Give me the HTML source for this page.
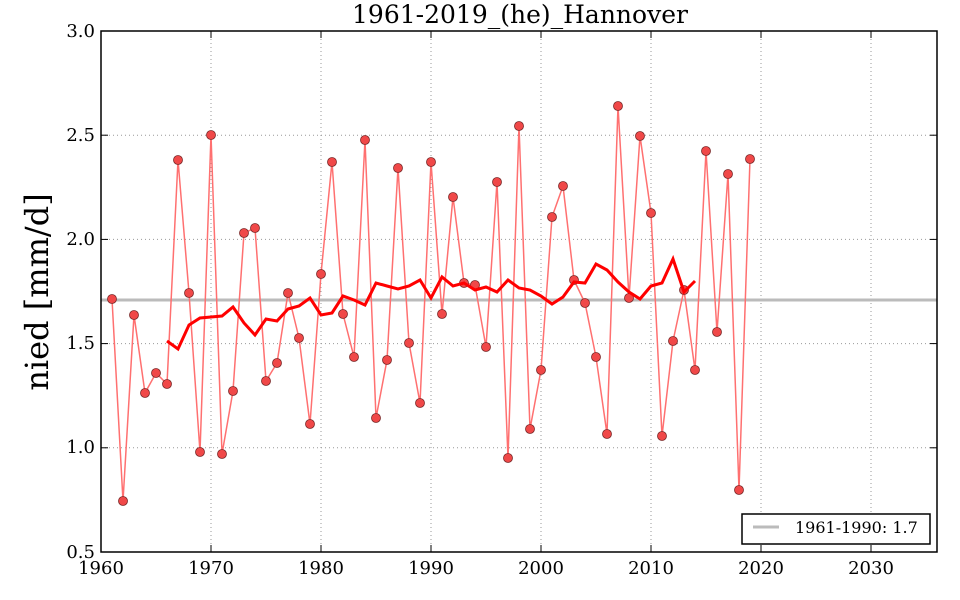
<!DOCTYPE html>
<html><head><meta charset="utf-8"><style>body{margin:0;background:#fff}svg{display:block}text{font-family:"DejaVu Serif","Liberation Serif",serif;fill:#000}</style></head>
<body>
<svg id="s" width="960" height="600" xmlns="http://www.w3.org/2000/svg">
<rect width="960" height="600" fill="#fff"/>
<g id="grid" stroke="#999" stroke-width="1" stroke-dasharray="1,3"></g>
<g id="data"></g>
<rect x="101" y="31" width="836" height="521" fill="none" stroke="#000" stroke-width="1.5"/>
<g id="ticks" stroke="#000" stroke-width="1"></g>
<text x="520" y="23" font-size="25" text-anchor="middle">1961-2019_(he)_Hannover</text>
<text transform="translate(48,292) rotate(-90)" font-size="32" text-anchor="middle">nied [mm/d]</text>
<g font-size="18" text-anchor="end">
<text x="95" y="37">3.0</text><text x="95" y="141">2.5</text><text x="95" y="245">2.0</text><text x="95" y="349">1.5</text><text x="95" y="453">1.0</text><text x="95" y="558">0.5</text>
</g>
<g font-size="18" text-anchor="middle">
<text x="101" y="574">1960</text><text x="211" y="574">1970</text><text x="321" y="574">1980</text><text x="431" y="574">1990</text><text x="541" y="574">2000</text><text x="651" y="574">2010</text><text x="761" y="574">2020</text><text x="871" y="574">2030</text>
</g>
<rect x="742" y="514" width="188" height="30" fill="#fff" stroke="#000" stroke-width="1.5"/>
<line x1="753" y1="527" x2="779" y2="527" stroke="#bbb" stroke-width="3"/>
<text x="795" y="533" font-size="16">1961-1990: 1.7</text>
</svg>
<script>
var ns="http://www.w3.org/2000/svg";
function el(p,t,a){var e=document.createElementNS(ns,t);for(var k in a)e.setAttribute(k,a[k]);p.appendChild(e);return e;}
var g=document.getElementById('grid'),tk=document.getElementById('ticks'),d=document.getElementById('data');
for(var i=0;i<8;i++){var x=101+i*110;if(i>0)el(g,'line',{x1:x,y1:31,x2:x,y2:552});el(tk,'line',{x1:x,y1:552,x2:x,y2:545});el(tk,'line',{x1:x,y1:31,x2:x,y2:38});}
for(var j=0;j<6;j++){var y=31+j*104.2;if(j>0&&j<5)el(g,'line',{x1:101,y1:y,x2:937,y2:y});el(tk,'line',{x1:101,y1:y,x2:108,y2:y});el(tk,'line',{x1:937,y1:y,x2:930,y2:y});}
var ys=[299,501,315,393,373,384,160,293,452,135,454,391,233,228,381,363,293,338,424,274,162,314,357,140,418,360,168,343,403,162,314,197,283,285,347,182,458,126,429,370,217,186,280,303,357,434,106,298,136,213,436,341,290,370,151,332,174,490,159];
var ma=[341,349,325,318,317,316,307,323,335,319,321,309,306,298,315,313,296,300,305,283,286,289,286,280,298,277,286,283,290,287,292,280,288,290,296,304,297,282,283,264,270,282,292,299,286,283,259,292,281];
el(d,'line',{x1:101,y1:300,x2:937,y2:300,stroke:'#bbb','stroke-width':3});
var p=ys.map(function(v,i){return (101+(i+1)*11)+','+v}).join(' ');
el(d,'polyline',{points:p,fill:'none',stroke:'#ff7070','stroke-width':1.5});
ys.forEach(function(v,i){el(d,'circle',{cx:101+(i+1)*11,cy:v,r:4.5,fill:'#f04848',stroke:'#7a2828','stroke-width':0.8});});
var q=ma.map(function(v,i){return (101+(i+6)*11)+','+v}).join(' ');
el(d,'polyline',{points:q,fill:'none',stroke:'#f00','stroke-width':3});
</script>
</body></html>
